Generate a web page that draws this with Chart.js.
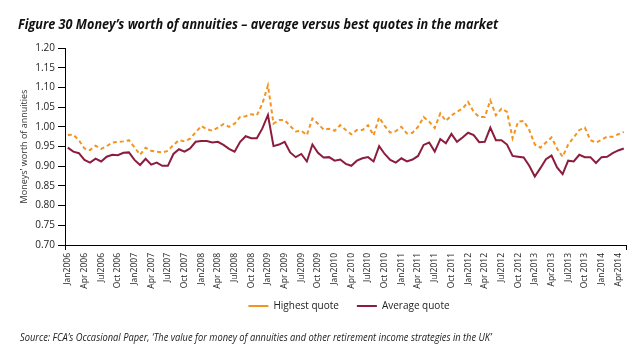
<!DOCTYPE html>
<html>
<head>
<meta charset="utf-8">
<script src="https://cdn.jsdelivr.net/npm/chart.js@4"></script>
<style>
body{margin:0;background:#fff;}
#wrap{position:relative;width:637px;height:353px;overflow:hidden;}
#title{position:absolute;left:18px;top:13px;font:italic bold 15px "Open Sans";color:#111;white-space:nowrap;transform-origin:0 0;}
#source{position:absolute;left:20px;top:330px;font:italic 10px "Open Sans";color:#222;white-space:nowrap;transform-origin:0 0;}
canvas{position:absolute;left:0;top:0;}
</style>
</head>
<body>
<div id="wrap">
  <canvas id="chart" width="637" height="353"></canvas>
  <div id="title">Figure 30 Money’s worth of annuities – average versus best quotes in the market</div>
  <div id="source">Source: FCA’s Occasional Paper,  ‘The value for money of annuities and other retirement income strategies in the UK’</div>
</div>
<script>
// monthly, Jan 2006 .. May 2014
var monthNames = ['Jan','Feb','Mar','Apr','May','Jun','Jul','Aug','Sep','Oct','Nov','Dec'];
var categories = [];
for (var yr = 2006; yr <= 2014; yr++) {
  for (var m = 0; m < 12; m++) {
    if (yr == 2014 && m > 4) break;
    categories.push(monthNames[m] + yr);
  }
}

var tickLabels = ['Jan2006','Apr 2006','Jul2006','Oct 2006','Jan2007','Apr 2007','Jul2007','Oct 2007',
  'Jan2008','Apr 2008','Jul2008','Oct 2008','Jan2009','Apr 2009','Jul2009','Oct 2009',
  'Jan2010','Apr 2010','Jul2010','Oct 2010','Jan2011','Apr 2011','Jul2011','Oct 2011',
  'Jan2012','Apr 2012','Jul2012','Oct 2012','Jan2013','Apr2013','Jul2013','Oct 2013',
  'Jan2014','Apr2014'];

var highestQuote = [
  0.979,0.980,0.966,0.945,0.941,0.952,0.944,0.951,0.960,0.962,0.963,0.966,
  0.948,0.929,0.947,0.939,0.937,0.935,0.939,0.954,0.966,0.963,0.970,0.986,
  1.002,0.994,0.990,0.998,1.007,1.000,1.008,1.025,1.027,1.032,1.029,1.059,
  1.105,1.008,1.017,1.017,1.002,0.988,0.990,0.979,1.021,1.008,0.993,0.995,
  0.990,1.004,0.992,0.981,0.992,0.992,1.004,0.978,1.024,1.002,0.985,0.989,
  1.000,0.983,0.985,1.000,1.025,1.013,0.997,1.034,1.015,1.029,1.038,1.046,
  1.063,1.038,1.025,1.025,1.067,1.029,1.046,1.038,0.971,1.013,1.015,0.992,
  0.955,0.947,0.960,0.973,0.945,0.924,0.955,0.973,0.992,0.998,0.966,0.960,
  0.967,0.975,0.975,0.981,0.987];

var averageQuote = [
  0.947,0.937,0.933,0.916,0.909,0.919,0.912,0.924,0.929,0.928,0.934,0.935,
  0.916,0.903,0.919,0.904,0.909,0.901,0.901,0.931,0.943,0.937,0.945,0.962,
  0.964,0.964,0.960,0.962,0.954,0.944,0.937,0.962,0.976,0.971,0.971,0.996,
  1.030,0.951,0.955,0.962,0.935,0.923,0.931,0.912,0.955,0.934,0.922,0.923,
  0.914,0.917,0.906,0.901,0.914,0.920,0.923,0.912,0.951,0.931,0.916,0.909,
  0.920,0.912,0.917,0.926,0.954,0.960,0.937,0.969,0.958,0.982,0.962,0.973,
  0.985,0.979,0.961,0.962,0.998,0.966,0.966,0.955,0.926,0.924,0.922,0.901,
  0.874,0.895,0.918,0.927,0.897,0.880,0.914,0.912,0.929,0.923,0.923,0.908,
  0.923,0.924,0.933,0.940,0.945];

var orange = '#f39420';
var wine = '#8c1c3e';

// squeeze the html texts to the narrow widths of the original
function fitWidth(id, w) {
  var el = document.getElementById(id);
  el.style.transform = 'scaleX(' + (w / el.offsetWidth) + ')';
}
fitWidth('title', 480);
fitWidth('source', 472);

// move the legend right and a little up, like the original
var legendShift = {
  id: 'legendShift',
  afterLayout: function(chart) {
    chart.legend.left += 27;
    chart.legend.right += 27;
    chart.legend.top -= 7;
    chart.legend.bottom -= 7;
  }
};

var config = {
  type: 'line',
  data: {
    labels: categories,
    datasets: [{
      label: 'Highest quote',
      data: highestQuote,
      borderColor: orange,
      backgroundColor: orange,
      borderWidth: 2,
      borderDash: [4, 3],
      pointRadius: 0,
      tension: 0,
      fill: false
    }, {
      label: 'Average quote',
      data: averageQuote,
      borderColor: wine,
      backgroundColor: wine,
      borderWidth: 2,
      pointRadius: 0,
      tension: 0,
      fill: false
    }]
  },
  options: {
    responsive: false,
    animation: false,
    layout: {padding: {left: 12, right: 5, top: 48, bottom: 25}},
    plugins: {
      title: {display: false},
      tooltip: {enabled: false},
      legend: {
        position: 'bottom',
        labels: {
          usePointStyle: true,
          pointStyle: 'line',
          pointStyleWidth: 20,
          boxHeight: 10,
          padding: 18,
          color: '#222',
          font: {family: 'Open Sans', size: 10}
        }
      }
    },
    scales: {
      x: {
        offset: true,
        border: {display: true, color: '#000', width: 1},
        grid: {
          display: true,
          drawOnChartArea: false,
          tickLength: 5,
          offset: true,
          color: function(ctx) {
            return (ctx.type !== 'tick' || ctx.index === 0) ? '#000' : 'rgba(0,0,0,0)';
          }
        },
        ticks: {
          autoSkip: false,
          minRotation: 90,
          maxRotation: 90,
          padding: 3,
          color: '#222',
          font: {family: 'Open Sans', size: 8.5},
          callback: function(val, idx) {
            return idx % 3 === 0 ? tickLabels[idx / 3] : '';
          }
        },
        afterFit: function(scale) { scale.height = 45; }
      },
      y: {
        min: 0.7,
        max: 1.2,
        border: {display: true, color: '#000', width: 1},
        grid: {drawOnChartArea: false, tickLength: 7, color: '#000'},
        ticks: {
          stepSize: 0.05,
          padding: 3,
          color: '#222',
          font: {family: 'Open Sans', size: 10},
          callback: function(v) { return v.toFixed(2); }
        },
        title: {
          display: true,
          text: "Moneys' worth of annuities",
          color: '#333',
          padding: {top: 7, bottom: 0},
          font: {family: 'Open Sans', size: 9}
        },
        afterFit: function(scale) { scale.width = 53; }
      }
    }
  },
  plugins: [legendShift]
};

window.onload = function() {
  var ctx = document.getElementById('chart').getContext('2d');
  window.myChart = new Chart(ctx, config);
};
</script>
</body>
</html>
